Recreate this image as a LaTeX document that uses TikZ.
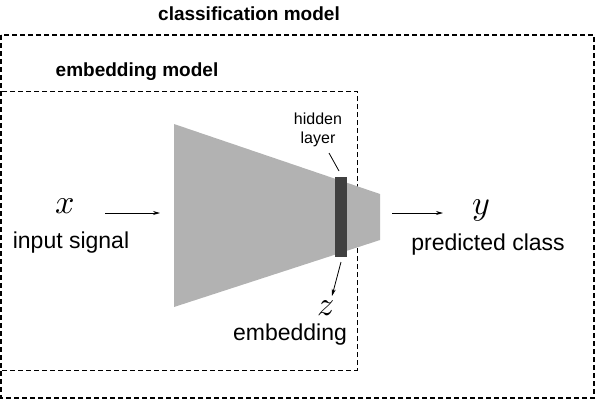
\documentclass[tikz,border=0pt]{standalone}
\usepackage{fontspec}
\setmainfont{Liberation Sans}
\usepackage{unicode-math}
\setmathfont{Latin Modern Math}
\usetikzlibrary{arrows.meta}
\begin{document}
\begin{tikzpicture}[x=1pt,y=-1pt,
  lbl/.style={font=\fontsize{23}{25}\selectfont, inner sep=0pt},
  ttl/.style={font=\fontsize{19}{22}\selectfont\bfseries, inner sep=0pt},
  mth/.style={font=\fontsize{34}{36}\selectfont, inner sep=0pt},
  small/.style={font=\fontsize{16}{19}\selectfont, inner sep=0pt, align=center},
  arr/.style={-{Stealth[length=7pt,width=4pt]}, line width=0.8pt},
  box/.style={dashed, dash pattern=on 5pt off 3pt}]
\useasboundingbox (0,0) rectangle (596,400);
% boxes
\draw[box, line width=1.6pt] (1,35) rectangle (594,398);
\draw[box, line width=0.9pt] (1,91) rectangle (357,370);
\node[ttl] (ct) at (249,14) {classification model};
\node[ttl] (et) at (137,72) {embedding model};
% network
\fill[black!30] (174,124) -- (380,194) -- (380,240) -- (174,307) -- cycle;
\fill[black!75] (335,177) rectangle (347,257);
\coordinate (hl) at (341,177);
\coordinate (hb) at (341,257);
\node[small] (htxt) at (318,130) {hidden\\layer};
\draw[line width=0.8pt] (329,153) -- (339,171);
% input
\node[mth] (x) at (65,206) {$x$};
\node[lbl] (xin) at (71,243) {input signal};
\coordinate (a1) at (105,213);
\coordinate (a2) at (160,213);
\draw[arr] (a1) -- (a2);
% output
\node[mth] (y) at (481,210) {$y$};
\node[lbl] (yout) at (488,245) {predicted class};
\coordinate (b1) at (392,213);
\coordinate (b2) at (443,213);
\draw[arr] (b1) -- (b2);
% embedding
\node[mth] (z) at (326,308) {$z$};
\node[lbl] (zemb) at (290,335) {embedding};
\coordinate (c1) at (341,262);
\coordinate (c2) at (332,296);
\draw[arr] (c1) -- (c2);
\end{tikzpicture}
\end{document}
